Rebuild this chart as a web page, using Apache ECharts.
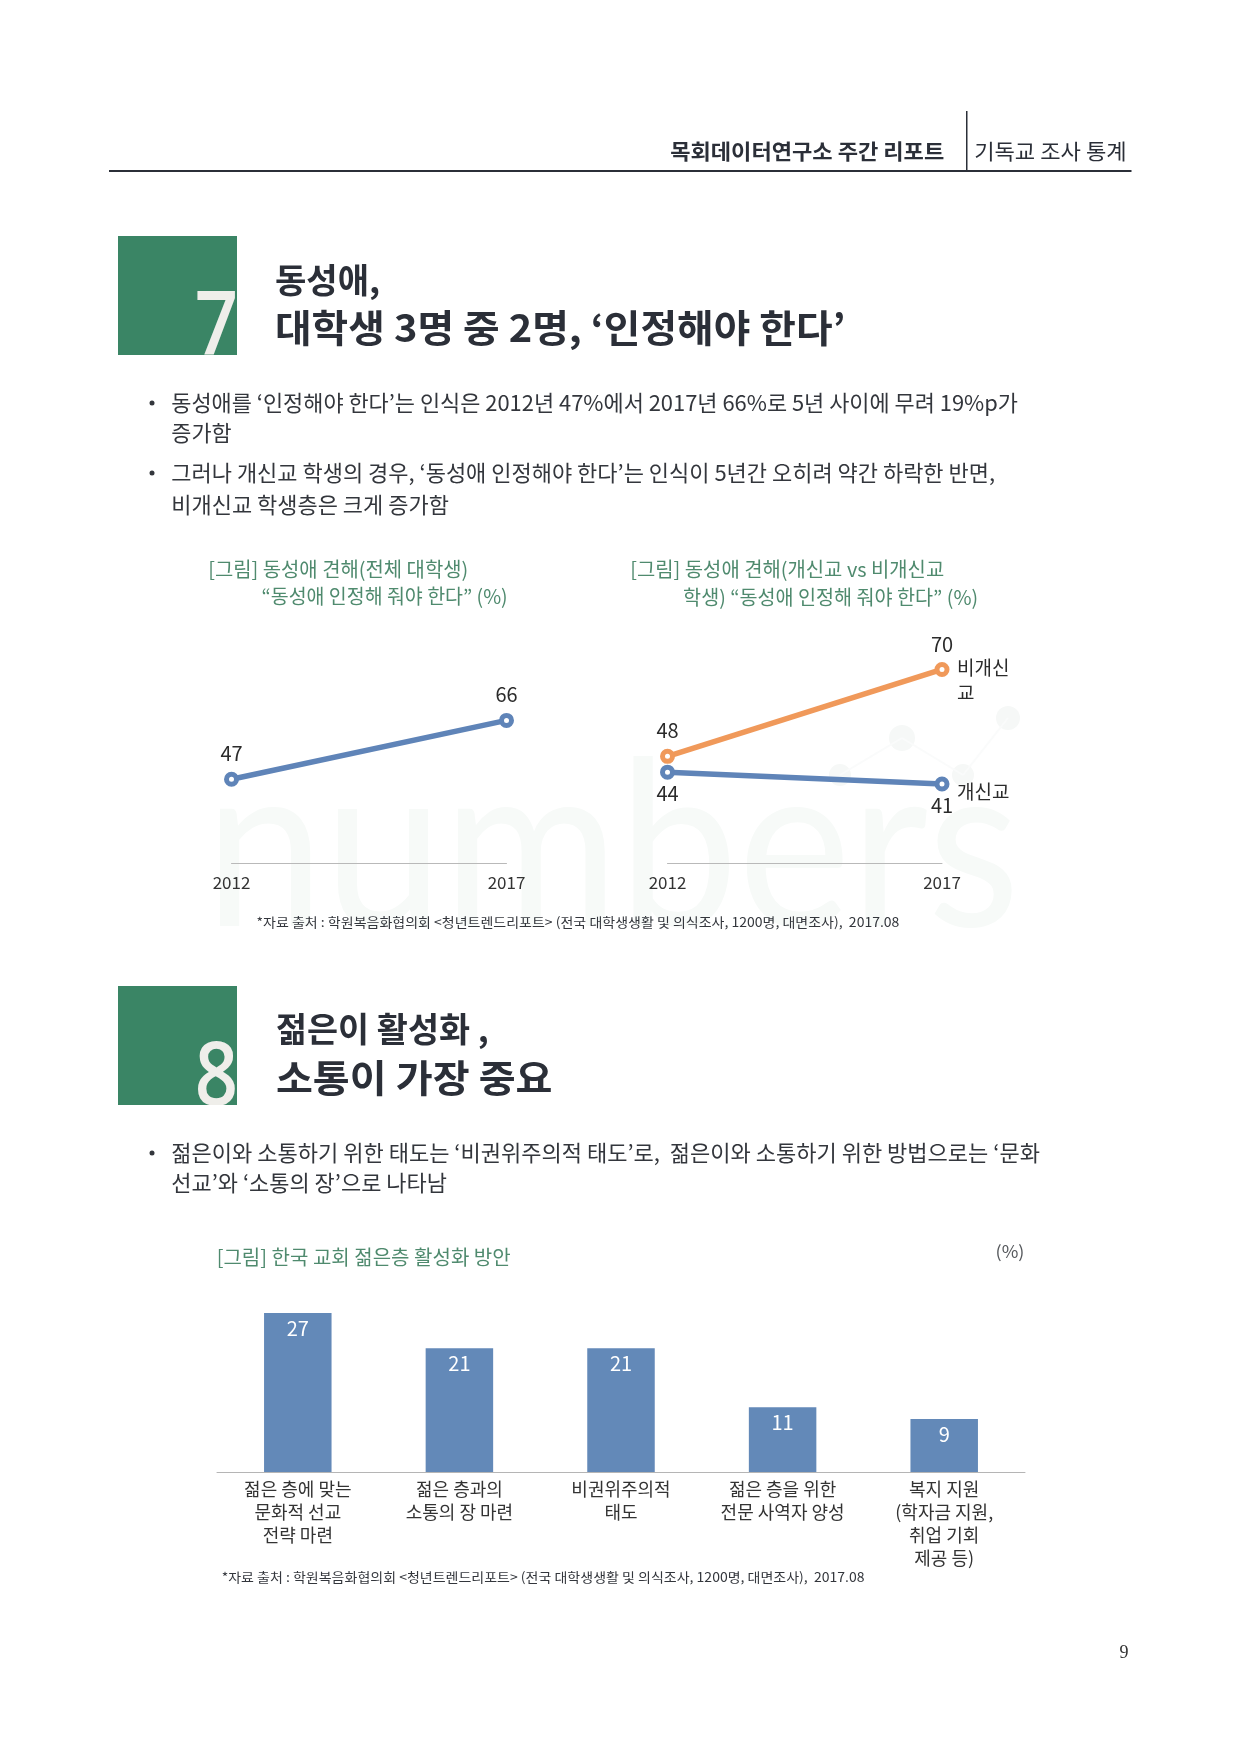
<!DOCTYPE html>
<html><head><meta charset="utf-8">
<style>html,body{margin:0;padding:0;background:#fff}#c{width:1240px;height:1755px}</style>
<script src="https://cdn.jsdelivr.net/npm/echarts@6/dist/echarts.min.js"></script>
</head><body><div id="c"></div>
<script>
const years = ['2012', '2017'];
const overall = [47, 66];
const nonChristian = [48, 70];
const christian = [44, 41];
const nonChristianName = '비개신\n교';
const christianName = '개신교';
const methods = ['젊은 층에 맞는\n문화적 선교\n전략 마련', '젊은 층과의\n소통의 장 마련', '비권위주의적\n태도', '젊은 층을 위한\n전문 사역자 양성', '복지 지원\n(학자금 지원,\n취업 기회\n제공 등)'];
const methodValues = [27, 21, 21, 11, 9];

const KR = '"Noto Sans CJK KR","Noto Sans",sans-serif';
const BLUE = '#5f84b8', ORANGE = '#f0995a', BAR = '#6389b8', GREEN = '#4f8a6e', INK = '#2b2f38', BOX = '#3a8565';
const mc = document.createElement('canvas').getContext('2d');
const tx = x => 109 + (x - 109) * 0.9967;
// text, left x, right x, centre y, size, weight, colour
const texts = [
 ['목회데이터연구소 주간 리포트', 672, 947, 151.5, 21, 'bold', INK],
 ['기독교 조사 통계', 977, 1130, 151.5, 21, 'normal', INK],
 ['동성애,', 275.5, 381, 280, 34, 'bold', INK],
 ['대학생 3명 중 2명, ‘인정해야 한다’', 275.5, 848, 328, 38, 'bold', INK],
 ['동성애를 ‘인정해야 한다’는 인식은 2012년 47%에서 2017년 66%로 5년 사이에 무려 19%p가', 171.5, 1021, 403, 22, 'normal', '#33363c'],
 ['증가함', 171.5, 232, 433, 22, 'normal', '#33363c'],
 ['그러나 개신교 학생의 경우, ‘동성애 인정해야 한다’는 인식이 5년간 오히려 약간 하락한 반면,', 171.5, 998, 473, 22, 'normal', '#33363c'],
 ['비개신교 학생층은 크게 증가함', 171.5, 450, 505, 22, 'normal', '#33363c'],
 ['[그림] 동성애 견해(전체 대학생)', 208.5, 469.5, 569, 20, 'normal', GREEN],
 ['“동성애 인정해 줘야 한다” (%)', 262, 509, 596, 20, 'normal', GREEN],
 ['[그림] 동성애 견해(개신교 vs 비개신교', 632, 947, 569, 20, 'normal', GREEN],
 ['학생) “동성애 인정해 줘야 한다” (%)', 685, 981, 597, 20, 'normal', GREEN],
 ['*자료 출처 : 학원복음화협의회 <청년트렌드리포트> (전국 대학생생활 및 의식조사, 1200명, 대면조사),  2017.08', 257, 902, 922.5, 13, 'normal', '#33363c'],
 ['젊은이 활성화 ,', 276.5, 490, 1029, 34, 'bold', INK],
 ['소통이 가장 중요', 276.5, 554, 1078, 38, 'bold', INK],
 ['젊은이와 소통하기 위한 태도는 ‘비권위주의적 태도’로,  젊은이와 소통하기 위한 방법으로는 ‘문화', 171.5, 1043, 1153, 22, 'normal', '#33363c'],
 ['선교’와 ‘소통의 장’으로 나타남', 171.5, 448, 1183, 22, 'normal', '#33363c'],
 ['[그림] 한국 교회 젊은층 활성화 방안', 217, 512, 1257, 20, 'normal', GREEN],
 ['(%)', 998.5, 1027.5, 1252, 17, 'normal', '#55585c'],
 ['*자료 출처 : 학원복음화협의회 <청년트렌드리포트> (전국 대학생생활 및 의식조사, 1200명, 대면조사),  2017.08', 222, 867, 1577, 13, 'normal', '#33363c']
];
const g = [];
// watermark
const wmFont = '400 232px Lato';
mc.font = wmFont;
g.push({type:'text', z:0, x:205, y:967, scaleX:815/mc.measureText('numbers').width, style:{text:'numbers', font:wmFont, fill:'#f7faf8', textVerticalAlign:'bottom'}});
[[1008,718,12],[902,738,13],[840,775,11],[963,775,11]].forEach(p=>g.push({type:'circle', z:0, shape:{cx:p[0],cy:p[1],r:p[2]}, style:{fill:'#f6f8f7'}}));
[[840,775,902,738],[902,738,963,775],[963,775,1008,718]].forEach(p=>g.push({type:'line', z:0, shape:{x1:p[0],y1:p[1],x2:p[2],y2:p[3]}, style:{stroke:'#fafbfb',lineWidth:2}}));
// rules and boxes
g.push({type:'rect', z:1, shape:{x:109,y:170,width:1022.5,height:2}, style:{fill:'#2b2f38'}});
g.push({type:'rect', z:1, shape:{x:966,y:111,width:1.5,height:60}, style:{fill:'#2b2f38'}});
[[236,'7'],[986,'8']].forEach(b=>{
  g.push({type:'rect', z:1, shape:{x:118,y:b[0],width:119,height:119}, style:{fill:BOX}});
  g.push({type:'text', z:2, x:238, y:b[0]+138, scaleX:0.86, style:{text:b[1], font:'600 88px "Open Sans"', fill:'#efeeea', textAlign:'right', textVerticalAlign:'bottom'}});
  g.push({type:'rect', z:2, shape:{x:170,y:b[0]+119,width:90,height:26}, style:{fill:'#fff'}});
});
[403,473,1153].forEach(y=>g.push({type:'circle', z:3, shape:{cx:152,cy:y,r:2.5}, style:{fill:'#33363c'}}));
texts.forEach(t=>{
  const font = t[5]+' '+t[4]+'px '+KR;
  mc.font = font;
  const w = mc.measureText(t[0]).width;
  const l = tx(t[1]), r = tx(t[2]);
  g.push({type:'text', z:3, x:l, y:t[3], scaleX:(r-l)/w, style:{text:t[0], font, fill:t[6], textAlign:'left', textVerticalAlign:'middle'}});
});
g.push({type:'text', z:3, x:1124, y:1653, style:{text:'9', font:'18px "Liberation Serif"', fill:'#333', textAlign:'center', textVerticalAlign:'middle'}});

const lineSeries = (x, name, data, color, pos, dist, end, off) => ({
  type:'line', name, xAxisIndex:x, yAxisIndex:x, data, symbol:'circle', symbolSize:10, showSymbol:true,
  lineStyle:{color, width:5.5}, itemStyle:{color:'#fff', borderColor:color, borderWidth:5}, z:5,
  label:{show:true, position:pos, distance:dist, fontFamily:KR, fontSize:20, color:'#2b2b2b', formatter:p=>p.value},
  endLabel: end ? {show:true, formatter:()=>end, fontFamily:KR, fontSize:19, color:'#2b2b2b', lineHeight:25, align:'left', distance:15, offset:off} : undefined,
  animation:false
});
const catAxis = i => ({type:'category', gridIndex:i, data:years, boundaryGap:false,
  axisLine:{lineStyle:{color:'#b9b9b9',width:1}}, axisTick:{show:false},
  axisLabel:{fontFamily:KR, fontSize:17, color:'#333', margin:11, hideOverlap:false, alignMinLabel:'center', alignMaxLabel:'center'}});
const valAxis = (i,min,max) => ({type:'value', gridIndex:i, min, max, show:false, splitLine:{show:false}});

const chart = echarts.init(document.getElementById('c'), null, {renderer:'canvas', width:1240, height:1755});
chart.setOption({
  backgroundColor:'#fff', animation:false,
  graphic:{elements:g},
  grid:[
    {left:231.5, top:615, width:275, height:248},
    {left:667.5, top:630, width:274.5, height:233},
    {left:217, top:1295.3, width:808, height:176.7}
  ],
  xAxis:[catAxis(0), catAxis(1),
    {type:'category', gridIndex:2, data:methods, axisLine:{lineStyle:{color:'#b5b5b5',width:1}}, axisTick:{show:false},
     axisLabel:{interval:0, fontFamily:KR, fontSize:18, color:'#333', lineHeight:23, margin:6}}],
  yAxis:[valAxis(0,20,100), valAxis(1,21,80), valAxis(2,0,30)],
  series:[
    lineSeries(0,'전체',overall,BLUE,'top',8,null),
    lineSeries(1,'비개신교',nonChristian,ORANGE,'top',8,nonChristianName,[0,11]),
    lineSeries(1,'개신교',christian,BLUE,'bottom',4,christianName,[0,8]),
    {type:'bar', xAxisIndex:2, yAxisIndex:2, data:methodValues, barWidth:67.5, itemStyle:{color:BAR}, z:5, animation:false,
     label:{show:true, position:'insideTop', distance:5, fontFamily:KR, fontSize:20, color:'#fff'}}
  ]
});
</script></body></html>
